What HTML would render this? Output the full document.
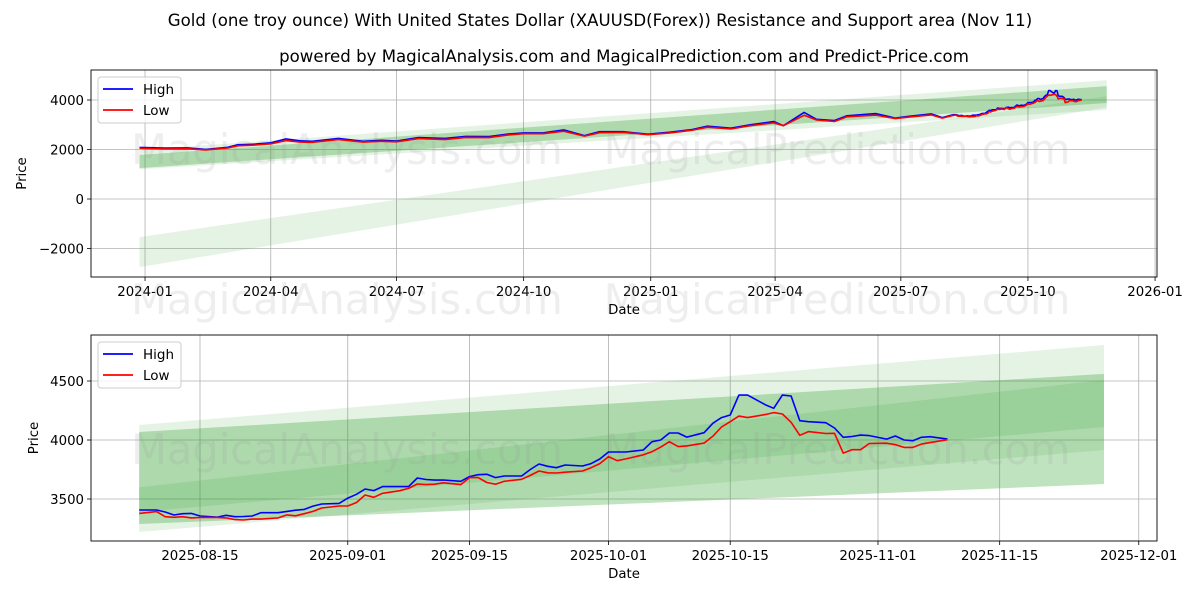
<!DOCTYPE html>
<html><head><meta charset="utf-8"><style>
body{margin:0;background:#fff;}
svg text{font-family:"DejaVu Sans","Liberation Sans",sans-serif;}
</style></head><body>
<svg id="chart" width="1200" height="600" viewBox="0 0 1200 600" xmlns="http://www.w3.org/2000/svg">
<rect width="1200" height="600" fill="#fff"/>
<text x="600" y="26" text-anchor="middle" font-size="16.6">Gold (one troy ounce) With United States Dollar (XAUUSD(Forex)) Resistance and Support area (Nov 11)</text>
<text x="624" y="62" text-anchor="middle" font-size="16.6">powered by MagicalAnalysis.com and MagicalPrediction.com and Predict-Price.com</text>
<g id="top"></g>
<g id="bot"></g>
</svg>
<script>
const topDates=["2023-12-28","2024-01-15","2024-02-01","2024-02-14","2024-03-01","2024-03-08","2024-03-21","2024-04-01","2024-04-12","2024-04-22","2024-05-01","2024-05-20","2024-06-07","2024-06-20","2024-07-01","2024-07-17","2024-08-05","2024-08-20","2024-09-06","2024-09-20","2024-10-01","2024-10-15","2024-10-30","2024-11-14","2024-11-25","2024-12-12","2024-12-30","2025-01-15","2025-01-31","2025-02-11","2025-02-28","2025-03-14","2025-03-31","2025-04-07","2025-04-22","2025-05-01","2025-05-14","2025-05-23","2025-06-13","2025-06-27","2025-07-07","2025-07-23","2025-07-31"];
const topHigh=[2085,2060,2065,2005,2090,2190,2220,2270,2430,2350,2330,2450,2330,2370,2340,2480,2450,2530,2520,2625,2670,2670,2790,2560,2720,2720,2620,2700,2810,2940,2860,3000,3130,2960,3500,3220,3170,3360,3450,3270,3340,3440,3290];
const topLow=[2050,2025,2030,1985,2060,2150,2180,2230,2360,2300,2290,2400,2300,2330,2310,2440,2400,2490,2480,2590,2640,2640,2740,2540,2680,2690,2600,2670,2780,2900,2830,2960,3080,2960,3380,3190,3130,3320,3390,3250,3310,3400,3270];
const recDates=["2025-08-08","2025-08-10","2025-08-11","2025-08-12","2025-08-13","2025-08-14","2025-08-15","2025-08-17","2025-08-18","2025-08-19","2025-08-20","2025-08-21","2025-08-22","2025-08-24","2025-08-25","2025-08-26","2025-08-27","2025-08-28","2025-08-29","2025-08-31","2025-09-01","2025-09-02","2025-09-03","2025-09-04","2025-09-05","2025-09-07","2025-09-08","2025-09-09","2025-09-10","2025-09-11","2025-09-12","2025-09-14","2025-09-15","2025-09-16","2025-09-17","2025-09-18","2025-09-19","2025-09-21","2025-09-22","2025-09-23","2025-09-24","2025-09-25","2025-09-26","2025-09-28","2025-09-29","2025-09-30","2025-10-01","2025-10-02","2025-10-03","2025-10-05","2025-10-06","2025-10-07","2025-10-08","2025-10-09","2025-10-10","2025-10-12","2025-10-13","2025-10-14","2025-10-15","2025-10-16","2025-10-17","2025-10-19","2025-10-20","2025-10-21","2025-10-22","2025-10-23","2025-10-24","2025-10-26","2025-10-27","2025-10-28","2025-10-29","2025-10-30","2025-10-31","2025-11-02","2025-11-03","2025-11-04","2025-11-05","2025-11-06","2025-11-07","2025-11-09"];
const recHigh=[3407,3407,3390,3364,3375,3378,3356,3346,3362,3350,3352,3356,3384,3384,3395,3405,3412,3440,3458,3463,3508,3540,3585,3571,3605,3605,3605,3678,3665,3660,3661,3650,3690,3706,3709,3681,3695,3695,3750,3797,3777,3765,3788,3780,3800,3839,3898,3898,3898,3915,3986,4000,4059,4059,4025,4062,4142,4190,4212,4381,4381,4300,4269,4381,4373,4164,4155,4147,4102,4023,4030,4042,4037,4008,4034,4000,3994,4023,4028,4008];
const recLow=[3378,3393,3350,3345,3350,3340,3343,3343,3340,3325,3322,3330,3330,3340,3365,3358,3375,3395,3424,3441,3441,3470,3534,3514,3548,3570,3590,3627,3622,3625,3637,3622,3681,3681,3640,3625,3650,3667,3700,3737,3722,3720,3727,3737,3765,3800,3859,3825,3840,3875,3901,3940,3986,3944,3950,3974,4031,4110,4155,4203,4190,4215,4232,4220,4150,4040,4071,4055,4057,3889,3918,3918,3970,3973,3960,3937,3937,3965,3978,4003];
// bands: [startLow, startHigh, endLow, endHigh]
const topBandStart="2023-12-28", bandEnd="2025-11-27", recBandStart="2025-08-08";
const topBand1=[1200,1980,3600,4800];
const topBand2=[1250,1780,3880,4560];
const topBand3=[-2750,-1540,3700,4150];
const recBand1=[3220,4127,3915,4805];
const recBand2=[3288,4068,3627,4560];
const recBand3=[3390,3600,4110,4508];
const topYTicks=[-2000,0,2000,4000];
const topXTicks=["2024-01-01","2024-04-01","2024-07-01","2024-10-01","2025-01-01","2025-04-01","2025-07-01","2025-10-01","2026-01-01"];
const topXLabels=["2024-01","2024-04","2024-07","2024-10","2025-01","2025-04","2025-07","2025-10","2026-01"];
const botYTicks=[3500,4000,4500];
const botXTicks=["2025-08-15","2025-09-01","2025-09-15","2025-10-01","2025-10-15","2025-11-01","2025-11-15","2025-12-01"];

const NS="http://www.w3.org/2000/svg";
const day=s=>Date.UTC(+s.slice(0,4),+s.slice(5,7)-1,+s.slice(8,10))/864e5;
function mk(parent,tag,attrs,text){const e=document.createElementNS(NS,tag);for(const k in attrs)e.setAttribute(k,attrs[k]);if(text!=null)e.textContent=text;parent.appendChild(e);return e;}

function panel(g,o){
  const L=91,R=1157,T=o.top,B=o.bottom;
  const x=d=>L+(day(d)-o.x0)/(o.x1-o.x0)*(R-L);
  const y=v=>B-(v-o.y0)/(o.y1-o.y0)*(B-T);
  o.xt.forEach((d,i)=>{const X=x(d);
    const gl=mk(g,'line',{x1:X,x2:X,y1:T,y2:B,stroke:'#b0b0b0','stroke-width':0.8});
    
    
    mk(g,'line',{x1:X,x2:X,y1:B,y2:B+4,stroke:'#000','stroke-width':0.8});
    const t=mk(g,'text',{x:X,y:B+19,'text-anchor':'middle','font-size':13.3},o.xl[i]);
    
    
  });
  o.yt.forEach(v=>{const Y=y(v);
    const gl=mk(g,'line',{x1:L,x2:R,y1:Y,y2:Y,stroke:'#b0b0b0','stroke-width':0.8});
    
    
    mk(g,'line',{x1:L-4,x2:L,y1:Y,y2:Y,stroke:'#000','stroke-width':0.8});
    const t=mk(g,'text',{x:L-7,y:Y+5,'text-anchor':'end','font-size':13.3},v<0?'\u2212'+(-v):String(v));
    
    
  });
  o.bands.forEach((b,i)=>{
    const xs=x(o.bs),xe=x(bandEnd);
    const p=mk(g,'polygon',{points:`${xs},${y(b[0])} ${xe},${y(b[2])} ${xe},${y(b[3])} ${xs},${y(b[1])}`,fill:'#2ca02c','fill-opacity':o.alpha[i]});
    
    
  });
  o.wm.forEach(w=>{const t=mk(g,'text',{x:w[0],y:w[1],'text-anchor':'middle','font-size':41.5,fill:'#999','fill-opacity':0.17},w[2]);
    
    });
  [[o.hi,'#0000ff','high-line'],[o.lo,'#ff0000','low-line']].forEach(s=>{
    const pts=o.dates.map((d,i)=>x(d).toFixed(1)+','+y(s[0][i]).toFixed(1)).join(' ');
    const pl=mk(g,'polyline',{points:pts,fill:'none',stroke:s[1],'stroke-width':1.6,'stroke-linejoin':'round'});
    
    
  });
  const fr=mk(g,'rect',{x:L,y:T,width:R-L,height:B-T,fill:'none',stroke:'#000','stroke-width':0.9});
  
  
  const xl=mk(g,'text',{x:(L+R)/2,y:B+37,'text-anchor':'middle','font-size':13.3},'Date');
  
  
  const yl=mk(g,'text',{x:o.ylx,y:(T+B)/2,'text-anchor':'middle','font-size':13.3,transform:`rotate(-90 ${o.ylx} ${(T+B)/2})`},'Price');
  
  
  const lg=mk(g,'g',{});
  
  
  mk(lg,'rect',{x:98,y:T+7,width:83,height:46,rx:3,fill:'#fff','fill-opacity':0.8,stroke:'#ccc'});
  [['High','#0000ff'],['Low','#ff0000']].forEach((e,i)=>{
    const yy=T+19+i*21;
    const le=mk(lg,'g',{});
    
    
    mk(le,'line',{x1:103,x2:133,y1:yy,y2:yy,stroke:e[1],'stroke-width':1.8});
    mk(le,'text',{x:143,y:yy+5,'font-size':13.5},e[0]);
  });
}
const allDates=topDates.concat(recDates), allHigh=topHigh.concat(recHigh), allLow=topLow.concat(recLow);
panel(document.getElementById('top'),{top:70,bottom:277,x0:day("2024-01-01")-39.1,x1:day("2024-01-01")+732.4,y0:-3151,y1:5212,
  xt:topXTicks,xl:topXLabels,yt:topYTicks,bands:[topBand1,topBand2,topBand3],alpha:[0.12,0.3,0.12],bs:topBandStart,
  dates:allDates,hi:allHigh,lo:allLow,ylx:26,
  wm:[[347,164,'MagicalAnalysis.com'],[837,164,'MagicalPrediction.com'],[347,314,'MagicalAnalysis.com'],[837,314,'MagicalPrediction.com']]});
panel(document.getElementById('bot'),{top:335,bottom:541,x0:day("2025-08-15")-12.54,x1:day("2025-08-15")+110.1,y0:3144,y1:4890,
  xt:botXTicks,xl:botXTicks,yt:botYTicks,bands:[recBand1,recBand2,recBand3],alpha:[0.12,0.3,0.15],bs:recBandStart,
  dates:recDates,hi:recHigh,lo:recLow,ylx:38,
  wm:[[347,464,'MagicalAnalysis.com'],[837,464,'MagicalPrediction.com']]});
</script>
</body></html>
